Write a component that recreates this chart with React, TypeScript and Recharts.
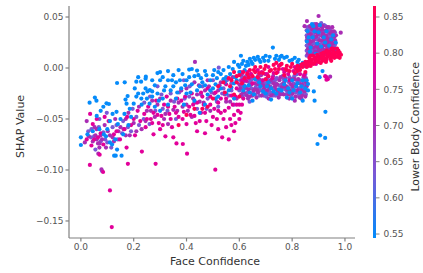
import { ScatterChart, Scatter, XAxis, YAxis, ComposedChart, Bar } from 'recharts';

const violetPoints = [
  [.855,.012],[.855,.017],[.855,.022],[.855,.027],[.855,.032],[.855,.037],[.858,.040],[.862,.014],[.864,.021],[.866,.029],[.868,.036],[.87,.041],
  [.875,.016],[.878,.024],[.88,.033],[.884,.043],[.888,.019],[.892,.028],[.895,.038],[.9,.014],[.904,.023],[.907,.032],[.91,.044],[.915,.018],
  [.918,.027],[.922,.036],[.926,.041],[.93,.021],[.934,.03],[.938,.016],[.942,.038],[.945,.025],[.95,.033],[.954,.02],[.958,.028],[.962,.035],[.964,.024],
  [.6,-.022],[.605,-.012],[.612,-.028],[.618,-.017],[.625,-.008],[.63,-.024],[.638,-.014],[.639,-.033],[.645,-.02],[.652,-.01],[.66,-.026],[.665,-.016],
  [.672,-.007],[.68,-.022],[.686,-.012],[.693,-.027],[.7,-.018],[.702,-.028],[.708,-.009],[.716,-.024],[.722,-.014],[.73,-.02],[.736,-.027],[.742,-.01],
  [.75,-.017],[.757,-.023],[.764,-.008],[.77,-.014],[.778,-.026],[.784,-.019],[.79,-.009],[.798,-.023],[.805,-.015],[.812,-.028],[.818,-.006],[.825,-.02],
  [.832,-.012],[.84,-.026],[.846,-.017],[.85,-.006],[.853,-.022],
  [.56,-.027],[.57,-.015],[.58,-.036],[.54,-.02],[.52,-.038],[.5,-.012],[.48,-.03],[.46,-.018],[.44,-.04],[.41,-.028],[.39,-.012],[.36,-.05],[.34,-.025],
  [.31,-.04],[.29,-.018],[.26,-.055],[.24,-.034],[.21,-.048],[.19,-.062],[.16,-.052],[.14,-.07],[.12,-.058],[.1,-.073],[.085,-.063],[.07,-.05],[.055,-.08],[.04,-.06],[.08,-.101],
  [.098,-.044],[.075,-.072],[.05,-.067],[.028,-.062],[.522,.0003],
  [.61,-.019],[.623,-.026],[.634,-.009],[.648,-.025],[.662,-.019],[.676,-.027],[.69,-.021],[.704,-.012],[.718,-.018],[.733,-.012],[.747,-.027],[.761,-.016],
  [.774,-.021],[.788,-.014],[.8,-.019],[.815,-.024],[.828,-.015],[.838,-.021],[.848,-.012],[.62,-.012],[.655,-.021],[.695,-.015],[.725,-.024],[.768,-.011],[.808,-.008],
  [.86,.025],[.873,.031],[.886,.024],[.899,.029],[.912,.036],[.925,.018],[.938,.033],[.952,.022],[.877,.036],[.894,.017],[.928,.027],[.946,.029],
  [.603,-.017],[.614,-.024],[.627,-.02],[.641,-.017],[.653,-.024],[.667,-.012],[.679,-.016],[.691,-.025],[.703,-.016],[.713,-.021],[.727,-.027],[.739,-.015],
  [.754,-.022],[.766,-.019],[.781,-.023],[.793,-.012],[.807,-.021],[.82,-.013],[.834,-.025],[.844,-.014],[.852,-.026],[.611,-.009],[.644,-.012],[.674,-.02],
  [.707,-.026],[.738,-.011],[.763,-.025],[.796,-.027],[.826,-.026],[.849,-.019],[.57,-.022],[.553,-.012],[.535,-.025],[.515,-.033],[.495,-.024],[.476,-.04],
  [.455,-.026],[.43,-.034],[.412,-.018],[.393,-.03],[.372,-.024],[.353,-.033],[.328,-.042],[.305,-.026],[.282,-.042],[.262,-.028],[.238,-.05],[.22,-.056],
  [.196,-.04],[.178,-.058],[.156,-.064],[.135,-.056],[.115,-.078],[.092,-.07],[.068,-.058],[.038,-.068],
  [.857,.03],[.869,.018],[.872,.038],[.883,.028],[.89,.022],[.897,.042],[.903,.035],[.914,.025],[.921,.042],[.927,.014],[.935,.036],[.941,.02],[.947,.035],
  [.953,.028],[.961,.022],[.882,.017],[.908,.015],[.919,.033],[.943,.031],[.865,.038],
];
const purplePoints = [
  [.86,.019],[.863,.034],[.868,.012],[.872,.026],[.876,.038],[.882,.014],[.885,.03],[.89,.04],[.893,.021],[.898,.033],[.902,.042],[.906,.017],[.911,.027],
  [.914,.038],[.92,.013],[.924,.023],[.928,.032],[.933,.04],[.936,.019],[.94,.028],[.944,.034],[.948,.017],[.952,.04],[.956,.024],[.96,.031],[.965,.018],
  [.87,.033],[.896,.024],[.915,.031],[.934,.025],[.95,.027],[.88,.02],[.905,.037],[.856,.046],[.847,.041],[.9,.051],[.984,.0346],[.944,-.0085],
  [.6,-.016],[.61,-.006],[.617,-.024],[.628,-.013],[.635,-.021],[.642,-.006],[.65,-.027],[.658,-.015],[.668,-.022],[.675,-.011],[.684,-.027],[.69,-.017],
  [.698,-.006],[.705,-.022],[.712,-.013],[.72,-.027],[.728,-.008],[.735,-.018],[.745,-.024],[.752,-.012],[.76,-.019],[.768,-.026],[.775,-.01],[.782,-.021],
  [.795,-.016],[.802,-.025],[.81,-.011],[.82,-.022],[.828,-.029],[.836,-.016],[.843,-.009],[.85,-.028],[.854,-.014],
  [.59,-.03],[.575,-.009],[.55,-.033],[.53,-.014],[.51,-.03],[.49,-.042],[.47,-.022],[.45,-.033],[.43,-.014],[.42,-.048],[.4,-.036],[.38,-.022],[.35,-.041],
  [.33,-.055],[.3,-.03],[.28,-.048],[.25,-.042],[.23,-.06],[.2,-.054],[.18,-.044],[.17,-.066],[.15,-.058],[.13,-.05],[.11,-.066],[.095,-.078],[.08,-.07],
  [.065,-.074],[.06,-.06],[.045,-.072],[.03,-.067],[.022,-.052],[.015,-.073],[.07,-.078],[.066,-.084],[.09,-.056],[.432,.006],[.078,-.0995],[.055,-.066],
  [.607,-.026],[.622,-.019],[.64,-.028],[.654,-.022],[.67,-.016],[.682,-.007],[.7,-.024],[.714,-.019],[.73,-.015],[.74,-.021],[.755,-.026],[.772,-.018],
  [.786,-.026],[.8,-.011],[.816,-.016],[.835,-.022],[.852,-.01],[.858,.03],[.866,.024],[.88,.027],[.89,.035],[.9,.02],[.918,.022],[.93,.03],[.942,.021],[.958,.036],
  [.52,-.022],[.48,-.012],[.44,-.026],[.4,-.02],[.37,-.034],[.32,-.045],[.27,-.032],[.22,-.038],[.17,-.05],[.12,-.068],
  [.859,.014],[.861,.027],[.867,.041],[.874,.021],[.879,.04],[.887,.016],[.891,.031],[.899,.038],[.903,.027],[.909,.041],[.913,.02],[.917,.034],[.923,.017],
  [.929,.037],[.932,.022],[.937,.027],[.939,.04],[.943,.016],[.949,.024],[.951,.036],[.955,.031],[.959,.018],[.963,.027],[.966,.032],[.874,.013],[.886,.038],
  [.901,.017],[.916,.041],[.931,.014],[.947,.021],[.892,.043],[.92,.028],
  [.604,-.02],[.616,-.013],[.629,-.027],[.637,-.01],[.647,-.016],[.659,-.021],[.671,-.024],[.683,-.014],[.694,-.02],[.709,-.017],[.719,-.012],[.731,-.025],
  [.743,-.016],[.756,-.009],[.767,-.015],[.779,-.018],[.791,-.022],[.803,-.018],[.814,-.028],[.823,-.011],[.837,-.027],[.847,-.023],[.855,-.018],[.633,-.03],
  [.665,-.029],[.711,-.03],[.749,-.029],[.789,-.03],[.81,-.032],[.835,-.03],[.565,-.033],[.545,-.026],[.525,-.017],[.505,-.025],[.485,-.018],[.465,-.034],
  [.447,-.017],[.425,-.03],[.405,-.042],[.385,-.038],[.365,-.042],[.34,-.032],[.315,-.05],[.29,-.036],[.265,-.042],[.245,-.052],[.21,-.062],[.185,-.066],
  [.162,-.06],[.142,-.062],[.125,-.072],[.102,-.062],[.075,-.066],[.052,-.058],[.06,-.07],[.07,-.074],
];
const magentaPoints = [
  [.034,-.095],[.084,-.102],[.11,-.12],[.117,-.156],[.178,-.094],[.283,-.094],[.231,-.082],[.402,-.084],[.362,-.074],[.386,-.0745],[.32,-.067],[.275,-.065],
  [.071,-.085],[.173,-.078],[.509,-.0997],[.035,-.045],[.06,-.05],[.045,-.055],[.09,-.048],[.105,-.052],[.125,-.065],[.05,-.07],[.065,-.068],[.075,-.064],
  [.022,-.07],[.04,-.076],[.085,-.075],[.135,-.062],[.148,-.07],[.165,-.06],[.175,-.048],[.19,-.056],[.2,-.05],[.215,-.042],[.205,-.066],[.225,-.052],
  [.24,-.045],[.255,-.038],[.265,-.05],[.245,-.058],[.275,-.044],[.285,-.032],[.295,-.054],[.305,-.047],[.315,-.036],[.325,-.028],[.335,-.045],[.345,-.058],
  [.355,-.038],[.37,-.048],[.38,-.032],[.39,-.043],[.4,-.055],[.41,-.038],[.42,-.025],[.43,-.047],[.44,-.034],[.45,-.052],[.46,-.028],[.47,-.044],[.48,-.02],
  [.49,-.036],[.5,-.048],[.51,-.024],[.52,-.042],[.53,-.03],[.54,-.05],[.55,-.016],[.56,-.039],[.57,-.027],[.58,-.046],[.59,-.02],[.3,-.06],[.35,-.068],
  [.44,-.062],[.47,-.064],[.52,-.06],[.55,-.058],[.58,-.062],[.6,-.05],[.6,-.036],[.615,-.03],[.585,-.054],[.56,-.07],[.535,-.068],[.605,-.044],[.61,-.012],
  [.63,-.004],[.65,-.015],[.67,-.002],[.69,-.012],[.71,.001],[.73,-.005],[.75,.002],[.77,-.004],[.79,-.012],[.81,.001],[.83,-.006],[.85,.002],[.86,.002],
  [.87,.006],[.89,.004],[.91,.009],[.93,.008],[.95,.012],[.935,-.011],[.925,-.008],[.93,-.009],[.93,-.0115],
  [.25,-.05],[.27,-.054],[.29,-.046],[.31,-.056],[.33,-.038],[.36,-.044],[.385,-.05],[.415,-.046],[.435,-.054],[.455,-.044],[.475,-.052],[.495,-.056],
  [.515,-.05],[.545,-.042],[.565,-.05],[.575,-.036],[.595,-.042],[.61,-.036],[.505,-.04],[.465,-.036],[.425,-.036],[.395,-.028],[.365,-.03],[.34,-.05],
  [.55,-.03],[.53,-.044],[.585,-.028],[.59,-.036],[.57,-.056],[.52,-.034],[.49,-.028],[.455,-.024],
  [.605,-.004],[.625,-.012],[.645,-.006],[.665,-.01],[.685,-.004],[.705,-.006],[.725,-.01],[.745,-.004],[.765,-.001],[.785,-.006],[.805,-.003],[.825,-.001],[.845,-.007],
];
const bluePoints = [
  [.137,-.0147],[.166,-.014],[.217,-.009],[.246,-.0085],[.21,-.0134],[.228,-.0134],[.245,-.0105],[.033,-.034],[.053,-.029],[.059,-.032],[.097,-.0346],[.106,-.0353],
  [.169,-.031],[.177,-.0275],[.173,-.035],[.204,-.02],[.217,-.025],[.236,-.025],[.229,-.03],[.252,-.023],[.261,-.0216],[.27,-.023],[0,-.068],[0,-.0755],[.137,-.08],
  [.126,-.086],[.132,-.086],[.154,-.086],[.087,-.065],[.1,-.06],[.11,-.073],[.118,-.075],[.06,-.047],[.075,-.042],[.085,-.038],[.12,-.045],[.135,-.043],[.15,-.05],
  [.165,-.045],[.185,-.04],[.2,-.035],[.16,-.065],[.18,-.056],[.19,-.048],[.14,-.055],[.045,-.062],[.025,-.065],[.07,-.06],[.11,-.052],[.095,-.067],[.13,-.07],
  [.27,-.012],[.29,-.005],[.3,-.004],[.28,-.017],[.31,-.009],[.33,-.003],[.35,-.007],[.37,-.002],[.385,-.006],[.4,-.012],[.42,-.001],[.44,-.0025],[.445,-.007],
  [.41,-.0015],[.455,-.01],[.47,-.003],[.5,-.007],[.52,-.004],[.54,-.002],[.56,.001],[.58,.006],[.606,.012],[.595,.003],[.29,-.025],[.31,-.03],[.32,-.018],
  [.34,-.022],[.36,-.014],[.38,-.02],[.4,-.025],[.42,-.016],[.44,-.022],[.46,-.014],[.48,-.026],[.5,-.02],[.52,-.028],[.54,-.011],[.56,-.022],[.58,-.015],
  [.25,-.03],[.26,-.035],[.28,-.038],[.3,-.042],[.33,-.036],[.36,-.03],[.39,-.036],[.43,-.032],[.47,-.036],[.51,-.016],[.55,-.009],[.59,-.012],[.6,-.004],
  [.61,.004],[.62,-.002],[.63,.006],[.64,.009],[.65,.004],[.66,.008],[.67,.011],[.68,.006],[.69,.01],[.7,.012],[.71,.007],[.727,.02],[.74,.012],[.75,.008],
  [.76,.012],[.78,.011],[.79,.007],[.81,.01],[.82,.006],[.83,.003],[.845,.002],[.62,-.018],[.64,-.024],[.66,-.011],[.68,-.018],[.7,-.025],[.71,-.014],[.73,-.023],
  [.75,-.021],[.77,-.016],[.79,-.024],[.8,-.012],[.815,-.018],[.83,-.024],[.84,-.012],[.85,-.02],[.65,-.032],[.72,-.031],[.78,-.029],[.8,-.03],[.84,-.032],
  [.896,-.0745],[.906,-.066],[.925,-.0686],[.926,-.043],[.885,-.032],[.882,-.023],[.86,-.022],[.86,-.0157],[.904,-.009],[.915,-.003],[.856,.026],[.87,.02],
  [.885,.036],[.89,.014],[.905,.042],[.92,.03],[.94,.022],[.93,.036],[.875,.043],[.862,.03],[.91,.021],[.955,.032],[.96,.019],[.58,-.03],[.45,-.044],
  [.475,-.007],[.49,-.012],[.505,-.002],[.515,-.01],[.53,-.006],[.545,-.014],[.565,-.006],[.575,-.001],[.585,-.009],[.6,.001],[.615,.007],[.625,.002],
  [.635,.003],[.645,.006],[.655,.01],[.675,.008],[.695,.007],[.715,.011],[.735,.009],[.755,.011],[.77,.01],[.8,.008],[.825,.008],[.84,.005],
  [.33,-.012],[.35,-.018],[.375,-.012],[.395,-.017],[.41,-.009],[.43,-.008],[.45,-.018],[.47,-.017],[.49,-.022],[.51,-.03],[.53,-.02],[.55,-.025],[.57,-.019],
  [.3,-.012],[.315,-.022],[.27,-.028],[.295,-.032],[.345,-.012],[.365,-.024],[.415,-.024],[.245,-.02],[.23,-.036],[.21,-.028],
  [.615,-.022],[.635,-.017],[.655,-.026],[.675,-.014],[.69,-.023],[.705,-.018],[.72,-.02],[.74,-.025],[.76,-.022],[.775,-.012],[.785,-.02],[.805,-.022],[.82,-.015],[.835,-.018],[.855,-.012],
  [.858,.036],[.867,.016],[.878,.03],[.895,.024],[.9,.035],[.912,.014],[.925,.025],[.948,.028],[.965,.025],[.88,.041],
];
const redPoints = [
  [.83,.001],[.84,.004],[.85,.006],[.855,.001],[.86,.006],[.865,.01],[.87,.002],[.875,.008],[.88,.012],[.885,.005],[.89,.01],[.895,.013],[.9,.006],[.905,.011],
  [.91,.014],[.915,.007],[.92,.012],[.925,.015],[.93,.009],[.935,.013],[.94,.016],[.945,.009],[.95,.014],[.955,.017],[.96,.01],[.965,.015],[.97,.011],[.975,.017],
  [.975,.013],[.98,.015],[.98,.01],[.97,.019],[.95,.019],[.96,.014],[.93,.017],[.91,.01],[.89,.007],[.87,.012],[.88,.004],
  [.56,-.01],[.58,-.004],[.6,-.007],[.62,-.01],[.63,-.006],[.64,-.002],[.65,-.008],[.66,-.004],[.67,-.009],[.68,.001],[.69,-.005],[.7,.002],[.71,-.008],[.72,-.002],
  [.73,.003],[.74,-.005],[.75,-.001],[.76,.004],[.77,-.007],[.78,.002],[.79,-.003],[.8,.004],[.81,-.005],[.82,.002],[.83,-.002],[.84,.001],[.85,-.004],
  [.59,-.014],[.61,-.015],[.66,.001],[.7,-.011],[.74,.005],[.78,-.002],[.82,-.003],[.52,-.018],[.5,-.03],[.48,-.038],[.46,-.04],[.43,-.04],
  [.4,-.046],[.37,-.056],[.58,-.026],[.6,-.028],
  [.615,-.004],[.635,-.009],[.655,-.002],[.675,-.005],[.695,-.001],[.715,-.003],[.735,-.001],[.755,.003],[.775,-.001],[.795,.001],[.815,-.001],[.835,.003],[.852,.003],
  [.862,.003],[.873,.005],[.883,.009],[.893,.007],[.903,.009],[.913,.011],[.923,.009],[.933,.011],[.943,.012],[.953,.011],[.963,.012],[.972,.015],[.985,.013],
  [.868,.008],[.898,.011],[.918,.015],[.938,.015],[.958,.019],[.978,.011],[.908,.005],[.928,.006],[.948,.007],
  [.57,-.012],[.54,-.014],[.545,-.024],[.565,-.018],[.59,-.008],
];

const bands = [
  { name: 'violet', points: violetPoints, color: '#7b58d6' },
  { name: 'purple', points: purplePoints, color: '#a92cb4' },
  { name: 'magenta', points: magentaPoints, color: '#e2009a' },
  { name: 'blue', points: bluePoints, color: '#058bfa' },
  { name: 'red', points: redPoints, color: '#ff0058' },
];

const faceTicks = [0, 0.2, 0.4, 0.6, 0.8, 1];
const shapTicks = [-0.15, -0.1, -0.05, 0, 0.05];
const bodyTicks = [0.55, 0.6, 0.65, 0.7, 0.75, 0.8, 0.85];
const colorRange = [{ key: 'c', range: [0.5445, 0.8652] }];

const axisColor = '#808080';
const tickText = { fontSize: 9, fill: '#555555', fontFamily: 'DejaVu Sans' };
const labelText = { fontSize: 11, fill: '#333333', fontFamily: 'DejaVu Sans' };

const minus = (v: number, digits: number) => v.toFixed(digits).replace('-', '\u2212');

const Dot = (props: any) => <circle cx={props.cx} cy={props.cy} r={2.1} fill={props.fill} />;

export default function App() {
  return (
    <div style={{ position: 'absolute', left: 0, top: 0, width: 423, height: 273, background: '#fff' }}>
      <div style={{ position: 'absolute', left: 0, top: 0 }}>
        <ScatterChart width={360} height={273} margin={{ top: 6, right: 5, bottom: 0, left: 0 }}>
          <XAxis
            type="number"
            dataKey="x"
            domain={[-0.045, 1.038]}
            ticks={faceTicks}
            tickFormatter={(v) => v.toFixed(1)}
            tick={tickText}
            tickSize={3.5}
            tickMargin={2}
            height={35}
            stroke={axisColor}
            strokeWidth={1.2}
            label={{ value: 'Face Confidence', position: 'insideBottom', offset: 8, dx: 3, style: labelText }}
          />
          <YAxis
            type="number"
            dataKey="y"
            domain={[-0.1667, 0.0608]}
            ticks={shapTicks}
            tickFormatter={(v) => minus(v, 2)}
            tick={tickText}
            tickSize={3.5}
            tickMargin={2}
            width={69}
            stroke={axisColor}
            strokeWidth={1.2}
            label={{ value: 'SHAP Value', angle: -90, position: 'insideLeft', offset: 20, dy: 36, style: labelText }}
          />
          {bands.map((band) => (
            <Scatter
              key={band.name}
              name={band.name}
              data={band.points.map(([x, y]) => ({ x, y }))}
              fill={band.color}
              shape={Dot}
              isAnimationActive={false}
            />
          ))}
        </ScatterChart>
      </div>
      <div style={{ position: 'absolute', left: 373, top: 0 }}>
        <ComposedChart
          width={50}
          height={273}
          data={colorRange}
          margin={{ top: 6, right: 0, bottom: 35, left: 0 }}
          barCategoryGap={0}
        >
          <defs>
            <linearGradient id="bodyScale" x1="0" y1="0" x2="0" y2="1">
              <stop offset="0%" stopColor="#ff0051" />
              <stop offset="25%" stopColor="#e2009a" />
              <stop offset="50%" stopColor="#a92cb4" />
              <stop offset="72%" stopColor="#7b58d6" />
              <stop offset="100%" stopColor="#008bfb" />
            </linearGradient>
          </defs>
          <XAxis dataKey="key" hide />
          <YAxis
            orientation="right"
            type="number"
            domain={[0.5445, 0.8652]}
            ticks={bodyTicks}
            tickFormatter={(v) => v.toFixed(2)}
            tick={tickText}
            tickSize={3.5}
            tickMargin={4}
            width={47}
            axisLine={false}
            tickLine={{ stroke: axisColor }}
            label={{ value: 'Lower Body Confidence', angle: -90, position: 'insideRight', offset: 0, dx: -8, dy: -60, style: labelText }}
          />
          <Bar dataKey="range" fill="url(#bodyScale)" isAnimationActive={false} />
        </ComposedChart>
      </div>
    </div>
  );
}
